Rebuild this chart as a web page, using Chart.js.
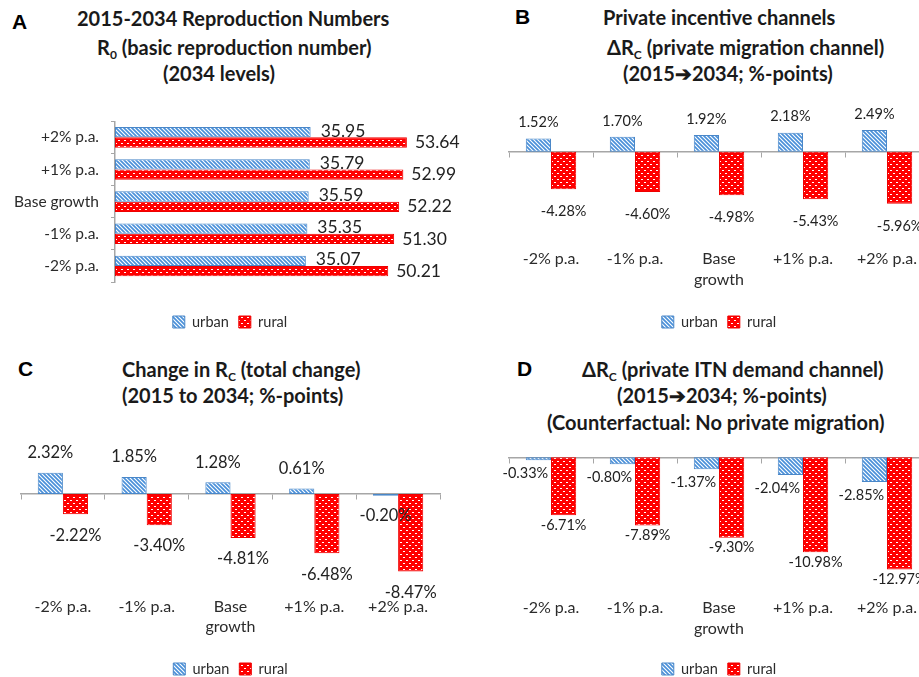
<!DOCTYPE html>
<html>
<head>
<meta charset="utf-8">
<script src="https://cdn.jsdelivr.net/npm/chart.js@4.4.1/dist/chart.umd.min.js"></script>
<style>
  html, body { margin: 0; padding: 0; background: #fff; }
  body { width: 919px; height: 677px; overflow: hidden; position: relative; font-family: Lato, "Open Sans", sans-serif; }
  .t { position: absolute; font-weight: 700; font-size: 20px; line-height: 20px; color: #1a1a1a; white-space: nowrap; }
  .lt { position: absolute; font-family: "Liberation Sans", Arial, sans-serif; font-weight: 700; font-size: 21px; line-height: 24px; color: #000; }
  .t sub { font-size: 60%; vertical-align: -4px; line-height: 0; }
  canvas { position: absolute; }
</style>
</head>
<body>
  <div class="lt" style="left:12px;top:10px">A</div>
  <div class="t" style="left:77px;top:8px">2015-2034 Reproduction Numbers</div>
  <div class="t" style="left:97px;top:37px">R<sub>0</sub> (basic reproduction number)</div>
  <div class="t" style="left:163px;top:63px">(2034 levels)</div>

  <div class="lt" style="left:515px;top:5px">B</div>
  <div class="t" style="left:603px;top:7px">Private incentive channels</div>
  <div class="t" style="left:607px;top:37px">ΔR<sub>C</sub> (private migration channel)</div>
  <div class="t" style="left:623px;top:63px">(2015➔2034; %-points)</div>

  <div class="lt" style="left:18px;top:357px">C</div>
  <div class="t" style="left:122px;top:359px">Change in R<sub>C</sub> (total change)</div>
  <div class="t" style="left:122px;top:385px">(2015 to 2034; %-points)</div>

  <div class="lt" style="left:517px;top:357px">D</div>
  <div class="t" style="left:582px;top:359px">ΔR<sub>C</sub> (private ITN demand channel)</div>
  <div class="t" style="left:617px;top:385px">(2015➔2034; %-points)</div>
  <div class="t" style="left:547px;top:412px">(Counterfactual: No private migration)</div>

  <canvas id="chartA" width="460" height="240" style="left:0;top:100px"></canvas>
  <canvas id="chartB" width="523" height="240" style="left:460px;top:100px"></canvas>
  <canvas id="chartC" width="460" height="260" style="left:0;top:430px"></canvas>
  <canvas id="chartD" width="523" height="260" style="left:460px;top:430px"></canvas>

<script>
// --- data ---
const categories = ['-2% p.a.', '-1% p.a.', ['Base', 'growth'], '+1% p.a.', '+2% p.a.'];
const categoriesA = ['+2% p.a.', '+1% p.a.', 'Base growth', '-1% p.a.', '-2% p.a.'];
const seriesNames = ['urban', 'rural'];

const r0Urban = [35.95, 35.79, 35.59, 35.35, 35.07];
const r0Rural = [53.64, 52.99, 52.22, 51.30, 50.21];
const migUrban = [1.52, 1.70, 1.92, 2.18, 2.49];
const migRural = [-4.28, -4.60, -4.98, -5.43, -5.96];
const totalUrban = [2.32, 1.85, 1.28, 0.61, -0.20];
const totalRural = [-2.22, -3.40, -4.81, -6.48, -8.47];
const itnUrban = [-0.33, -0.80, -1.37, -2.04, -2.85];
const itnRural = [-6.71, -7.89, -9.30, -10.98, -12.97];

const fuente = 'Lato, "Open Sans", sans-serif';
const colorTexto = '#2b2b2b';
const colorEje = '#a6a6a6';

// rellenos con trama (como en Excel)
const hacerTrama = (w, h, dibujar) => {
  const c = document.createElement('canvas');
  c.width = w; c.height = h;
  const g = c.getContext('2d');
  dibujar(g);
  return g.createPattern(c, 'repeat');
};

const tramaUrbana = hacerTrama(4, 4, (g) => {
  g.fillStyle = '#fff';
  g.fillRect(0, 0, 4, 4);
  g.strokeStyle = '#4a90d9';
  g.lineWidth = 1.7;
  g.beginPath();
  g.moveTo(-1, -1); g.lineTo(5, 5);
  g.moveTo(-1, 3); g.lineTo(1, 5);
  g.moveTo(3, -1); g.lineTo(5, 1);
  g.stroke();
});

const tramaRural = hacerTrama(6, 6, (g) => {
  g.fillStyle = '#ff0000';
  g.fillRect(0, 0, 6, 6);
  g.fillStyle = '#fff';
  g.fillRect(1, 1, 2, 1);
  g.fillRect(4, 4, 2, 1);
});

const datasets = (urbano, rural) => [
  { label: seriesNames[0], data: urbano, backgroundColor: tramaUrbana, borderColor: '#4a87c8', borderWidth: 1, borderSkipped: false },
  { label: seriesNames[1], data: rural, backgroundColor: tramaRural, borderColor: '#ee0000', borderWidth: 1, borderSkipped: false },
];

// etiquetas de valor dibujadas junto a cada barra
const etiquetasValor = {
  id: 'etiquetasValor',
  afterDatasetsDraw(chart, args, opts) {
    const { ctx } = chart;
    const horizontal = chart.options.indexAxis === 'y';
    ctx.save();
    ctx.font = `${opts.size}px ${fuente}`;
    ctx.fillStyle = '#222';
    ctx.textBaseline = 'middle';
    chart.data.datasets.forEach((ds, i) => {
      const meta = chart.getDatasetMeta(i);
      const o = opts.offsets[i];
      meta.data.forEach((barra, j) => {
        const v = ds.data[j];
        const texto = v.toFixed(2) + opts.sufijo;
        if (horizontal) {
          ctx.textAlign = 'left';
          ctx.fillText(texto, barra.x + o.gap, barra.y + (o.dy || 0));
        } else {
          ctx.textAlign = 'center';
          const dir = v >= 0 ? -1 : 1;
          ctx.fillText(texto, barra.x + (o.dx || 0), barra.y + dir * o.gap);
        }
      });
    });
    ctx.restore();
  }
};

const leyenda = {
  position: 'bottom',
  labels: { boxWidth: 12, boxHeight: 12, padding: 10, color: '#2b2b2b', font: { family: fuente, size: 14.5 } }
};

// --- A: barras horizontales ---
new Chart(document.getElementById('chartA'), {
  type: 'bar',
  data: { labels: categoriesA, datasets: datasets(r0Urban, r0Rural) },
  options: {
    indexAxis: 'y',
    responsive: false,
    animation: false,
    layout: { padding: { top: 10, bottom: 0.75, left: 0, right: 0 } },
    datasets: { bar: { categoryPercentage: 0.64, barPercentage: 1 } },
    scales: {
      x: {
        min: 0, max: 63.4,
        grid: { display: false, drawTicks: false },
        border: { display: false },
        ticks: { display: false },
        afterFit: (s) => { s.height = 22.75; }
      },
      y: {
        grid: { drawOnChartArea: false, tickLength: 4, color: colorEje },
        border: { color: colorEje, width: 1.5 },
        ticks: { padding: 12, color: colorTexto, font: { family: fuente, size: 15.5 } },
        afterFit: (s) => { s.width = 115; }
      }
    },
    plugins: {
      legend: leyenda,
      tooltip: { enabled: false },
      etiquetasValor: { size: 17.5, sufijo: '', offsets: [{ gap: 10, dy: -1 }, { gap: 8, dy: 0 }] }
    }
  },
  plugins: [etiquetasValor]
});

// --- B, C, D: barras verticales con eje en cero ---
const graficoVertical = (id, urbano, rural, yMin, yMax, padding, sepEtiqueta, etiquetas) => {
  new Chart(document.getElementById(id), {
    type: 'bar',
    data: { labels: categories, datasets: datasets(urbano, rural) },
    options: {
      responsive: false,
      animation: false,
      layout: { padding },
      datasets: { bar: { categoryPercentage: 0.6, barPercentage: 1 } },
      scales: {
        x: {
          grid: { display: false, drawTicks: false },
          border: { display: false },
          ticks: { padding: sepEtiqueta, color: colorTexto, maxRotation: 0, autoSkip: false, font: { family: fuente, size: 16, lineHeight: '20.5px' } }
        },
        x2: {
          type: 'category',
          axis: 'x',
          position: { y: 0 },
          grid: { drawOnChartArea: false, drawTicks: true, tickLength: 5, color: colorEje, offset: true },
          border: { color: colorEje, width: 1.5 },
          ticks: { display: false }
        },
        y: { display: false, min: yMin, max: yMax }
      },
      plugins: {
        legend: leyenda,
        tooltip: { enabled: false },
        etiquetasValor: etiquetas
      }
    },
    plugins: [etiquetasValor]
  });
};

graficoVertical('chartB', migUrban, migRural, -9.45, 4.77,
  { top: 10, bottom: 0.75, left: 49, right: 54 }, 14.7,
  { size: 14.5, sufijo: '%', offsets: [{ gap: 16 }, { gap: 22 }] });

graficoVertical('chartC', totalUrban, totalRural, -9.63, 5.9,
  { top: 10, bottom: 3.75, left: 21, right: 20 }, 14.3,
  { size: 16.5, sufijo: '%', offsets: [{ gap: 20 }, { gap: 21 }] });

graficoVertical('chartD', itnUrban, itnRural, -14.73, 2.0,
  { top: 10, bottom: 3.75, left: 49, right: 54 }, 13,
  { size: 14.5, sufijo: '%', offsets: [{ gap: 13, dx: -13 }, { gap: 10 }] });
</script>
</body>
</html>
